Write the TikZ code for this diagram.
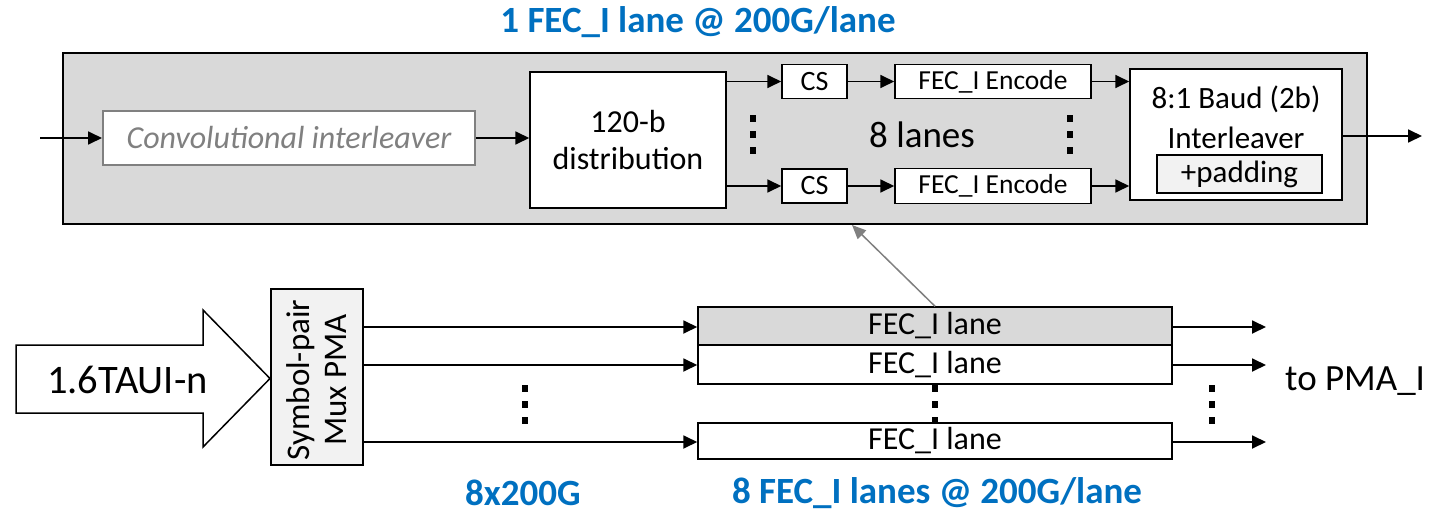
\documentclass[tikz,border=0pt]{standalone}
\usepackage{fontspec}
\setmainfont{Carlito}
\usetikzlibrary{arrows.meta}
\definecolor{tblue}{RGB}{0,112,192}
\definecolor{boxgray}{RGB}{217,217,217}
\definecolor{lightgray}{RGB}{242,242,242}
\definecolor{midgray}{RGB}{128,128,128}
\tikzset{
  blk/.style={draw=black, line width=1.5pt, fill=white, inner sep=0pt, align=center},
  conn/.style={-{Triangle[length=14pt,width=13pt]}, line width=1.8pt},
  dots/.style={line width=6.5pt, dash pattern=on 6.5pt off 9.5pt},
  bluelbl/.style={text=tblue, font=\fontsize{37}{40}\selectfont\bfseries, inner sep=0pt},
  lanebox/.style={draw=black, line width=1.5pt, minimum width=474pt, inner sep=0pt, font=\fontsize{32}{36}\selectfont},
}
\begin{document}
\begin{tikzpicture}[x=1pt,y=-1pt]
\useasboundingbox (0,0) rectangle (1430,514);
% title
\node[bluelbl] (title) at (698,22) {1 FEC\_I lane @ 200G/lane};
% big box
\node[draw=black, line width=1.8pt, fill=boxgray, minimum width=1304pt, minimum height=171pt, inner sep=0pt] (big) at (715,138.5) {};
% conv interleaver
\node[draw=midgray, line width=2pt, fill=white, minimum width=372pt, minimum height=54pt, inner sep=0pt, text=midgray, font=\fontsize{32}{36}\selectfont\itshape] (conv) at (289,138) {Convolutional interleaver};
\coordinate (inL) at (40,138);
\draw[conn] (inL) -- (conv.west);
% distribution
\node[blk, minimum width=196pt, minimum height=136pt, font=\fontsize{32}{37}\selectfont] (dist) at (628,140) {120-b\\distribution};
\draw[conn] (conv.east) -- (dist.west |- conv.east);
% CS and encode
\node[blk, minimum width=65pt, minimum height=34pt, font=\fontsize{28}{32}\selectfont] (cs1) at (814.5,81.5) {CS};
\node[blk, minimum width=65pt, minimum height=34pt, font=\fontsize{28}{32}\selectfont] (cs2) at (814.5,186) {CS};
\node[blk, minimum width=196pt, minimum height=34pt, font=\fontsize{27.5}{32}\selectfont] (enc1) at (993,81.5) {FEC\_I Encode};
\node[blk, minimum width=196pt, minimum height=35pt, font=\fontsize{27.5}{32}\selectfont] (enc2) at (993,186) {FEC\_I Encode};
% baud interleaver
\node[blk, minimum width=212pt, minimum height=131pt] (baud) at (1236,134.5) {};
\node[font=\fontsize{31}{36}\selectfont, inner sep=0pt] (baudt) at (1236,99) {8:1 Baud (2b)};
\node[font=\fontsize{31}{36}\selectfont, inner sep=0pt] (baudi) at (1236,138) {Interleaver};
\node[draw=black, line width=1.5pt, fill=lightgray, minimum width=165pt, minimum height=38pt, inner sep=0pt, font=\fontsize{31}{36}\selectfont] (pad) at (1239.5,174) {+padding};
\draw[conn] (dist.east |- cs1) -- (cs1.west);
\draw[conn] (dist.east |- cs2) -- (cs2.west);
\draw[conn] (cs1.east) -- (enc1.west);
\draw[conn] (cs2.east) -- (enc2.west);
\draw[conn] (enc1.east) -- (baud.west |- enc1.east);
\draw[conn] (enc2.east) -- (baud.west |- enc2.east);
\coordinate (outR) at (1422,136);
\draw[conn] (baud.east |- outR) -- (outR);
% dots and label
\draw[dots] (753,115) -- (753,160);
\draw[dots] (1070,115) -- (1070,160);
\node[font=\fontsize{37}{40}\selectfont, inner sep=0pt] (lanes8) at (922,135) {8 lanes};
% bottom: big block arrow
\draw[line width=1.5pt, fill=white] (16,345) -- (203,345) -- (203,310) -- (270,378.5) -- (203,447) -- (203,413) -- (16,413) -- cycle;
\node[font=\fontsize{40.5}{44}\selectfont, inner sep=0pt] (tauit) at (127.5,380) {1.6TAUI-n};
% mux box
\node[draw=black, line width=1.5pt, fill=lightgray, minimum width=92pt, minimum height=176pt, inner sep=0pt] (mux) at (317,377) {};
\node[rotate=90, align=center, font=\fontsize{33}{37}\selectfont, inner sep=0pt] (muxt) at (317,380) {Symbol-pair\\Mux PMA};
% lane boxes
\node[lanebox, fill=boxgray, minimum height=38pt] (l1) at (935,326) {FEC\_I lane};
\node[lanebox, fill=white, minimum height=39pt] (l2) at (935,364.5) {FEC\_I lane};
\node[lanebox, fill=white, minimum height=36pt] (l3) at (935,441) {FEC\_I lane};
\draw[conn] (mux.east |- 0,327) -- (l1.west |- 0,327);
\draw[conn] (mux.east |- 0,365) -- (l2.west |- 0,365);
\draw[conn] (mux.east |- 0,442) -- (l3.west |- 0,442);
\coordinate (o1) at (1266,327);
\coordinate (o2) at (1266,365);
\coordinate (o3) at (1266,442);
\draw[conn] (l1.east |- o1) -- (o1);
\draw[conn] (l2.east |- o2) -- (o2);
\draw[conn] (l3.east |- o3) -- (o3);
\draw[dots] (525,385) -- (525,430);
\draw[dots] (935,385) -- (935,430);
\draw[dots] (1212,385) -- (1212,430);
\node[font=\fontsize{37}{40}\selectfont, inner sep=0pt, anchor=west] (topma) at (1285,381) {to PMA\_I};
% gray pointer
\coordinate (ptip) at (852,225);
\draw[-{Triangle[length=14pt,width=12pt]}, draw=midgray, fill=midgray, line width=1.5pt] (l1.north) -- (ptip);
% blue labels
\node[bluelbl] (b1) at (523,493) {8x200G};
\node[bluelbl] (b2) at (937,493) {8 FEC\_I lanes @ 200G/lane};
\end{tikzpicture}
\end{document}
